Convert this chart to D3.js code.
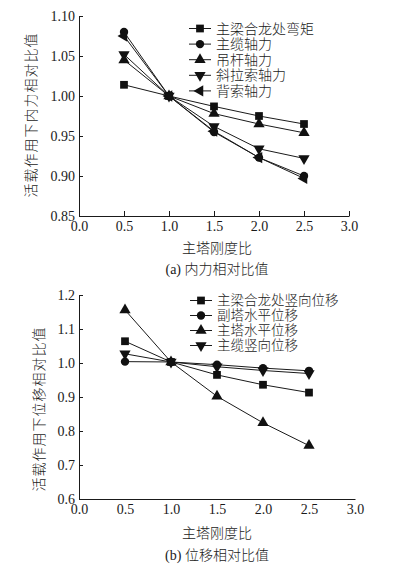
<!DOCTYPE html>
<html>
<head>
<meta charset="utf-8">
<script src="https://cdn.jsdelivr.net/npm/d3@7"></script>
<style>
body { margin: 0; background: #fff; }
text { fill: #1a1a1a; }
.num { font-family: "Liberation Serif", "DejaVu Serif", serif; font-size: 14px; }
.zh { font-family: "Liberation Serif", "Noto Sans CJK SC", sans-serif; font-size: 14px; font-weight: 300; }
.axis path, .axis line { stroke: #1a1a1a; stroke-width: 1; }
</style>
</head>
<body>
<div id="chart"></div>
<script>
var w = 394;
var h = 573;

// shared x values (主塔刚度比)
var ratios = [0.5, 1.0, 1.5, 2.0, 2.5];

// (a) 内力相对比值
var forceNames = ["主梁合龙处弯矩", "主缆轴力", "吊杆轴力", "斜拉索轴力", "背索轴力"];
var girderMoment = [1.014, 1.0, 0.987, 0.975, 0.965];
var cableForce = [1.080, 1.0, 0.955, 0.923, 0.900];
var hangerForce = [1.045, 1.0, 0.978, 0.965, 0.954];
var stayForce = [1.052, 1.0, 0.962, 0.934, 0.922];
var backstayForce = [1.075, 1.0, 0.956, 0.923, 0.897];
var forceTicks = [0.85, 0.90, 0.95, 1.00, 1.05, 1.10];

// (b) 位移相对比值
var dispNames = ["主梁合龙处竖向位移", "副塔水平位移", "主塔水平位移", "主缆竖向位移"];
var girderDisp = [1.064, 1.003, 0.965, 0.936, 0.913];
var sideTowerDisp = [1.004, 1.003, 0.995, 0.985, 0.977];
var towerDisp = [1.156, 1.003, 0.902, 0.824, 0.757];
var cableDisp = [1.027, 1.003, 0.989, 0.978, 0.969];
var dispTicks = [0.6, 0.7, 0.8, 0.9, 1.0, 1.1, 1.2];

var xTicks = [0, 0.5, 1.0, 1.5, 2.0, 2.5, 3.0];

var svg = d3.select("#chart").append("svg")
	.attr("width", w)
	.attr("height", h);

// marker shapes
var shapes = {
	square: { type: d3.symbolSquare, size: 60, rot: 0 },
	circle: { type: d3.symbolCircle, size: 55, rot: 0 },
	up: { type: d3.symbolTriangle, size: 55, rot: 0 },
	down: { type: d3.symbolTriangle, size: 55, rot: 180 },
	left: { type: d3.symbolTriangle, size: 55, rot: -90 }
};

function drawPanel(opt) {
	var g = svg.append("g");

	var xScale = d3.scaleLinear().domain([0, 3]).range([opt.x0, opt.x1]);
	var yScale = d3.scaleLinear().domain(opt.yDomain).range([opt.yBottom, opt.yTop]);

	// axes
	g.append("g")
		.attr("class", "axis num")
		.attr("transform", "translate(" + opt.x0 + ",0)")
		.call(d3.axisLeft(yScale)
			.tickValues(opt.yTicks)
			.tickFormat(d3.format(opt.yFmt))
			.tickSizeInner(-4)
			.tickSizeOuter(0)
			.tickPadding(4))
		.call(function (a) { a.selectAll("text").attr("fill", "#1a1a1a").style("font-size", "14px"); });

	g.append("g")
		.attr("class", "axis num")
		.attr("transform", "translate(0," + opt.yBottom + ")")
		.call(d3.axisBottom(xScale)
			.tickValues(xTicks)
			.tickFormat(d3.format(".1f"))
			.tickSizeInner(opt.xTick)
			.tickSizeOuter(0)
			.tickPadding(5))
		.call(function (a) { a.selectAll("text").attr("fill", "#1a1a1a").style("font-size", "14px"); });

	var line = d3.line()
		.x(function (d, i) { return xScale(ratios[i]); })
		.y(function (d) { return yScale(d); });

	opt.series.forEach(function (s) {
		g.append("path")
			.datum(s.values)
			.attr("d", line)
			.attr("fill", "none")
			.attr("stroke", "#1a1a1a")
			.attr("stroke-width", 1);
	});

	opt.series.forEach(function (s) {
		var sh = shapes[s.shape];
		g.selectAll(null)
			.data(s.values)
			.enter()
			.append("path")
			.attr("d", d3.symbol().type(sh.type).size(sh.size))
			.attr("transform", function (d, i) {
				return "translate(" + xScale(ratios[i]) + "," + yScale(d) + ") rotate(" + sh.rot + ")";
			})
			.attr("fill", "#111");
	});

	// legend
	var lg = g.append("g");
	opt.series.forEach(function (s, i) {
		var y = opt.legY + i * opt.legStep;
		var sh = shapes[s.shape];
		lg.append("line")
			.attr("x1", opt.legX).attr("x2", opt.legX + 22)
			.attr("y1", y).attr("y2", y)
			.attr("stroke", "#1a1a1a");
		lg.append("path")
			.attr("d", d3.symbol().type(sh.type).size(sh.size))
			.attr("transform", "translate(" + (opt.legX + 11) + "," + y + ") rotate(" + sh.rot + ")")
			.attr("fill", "#111");
		lg.append("text")
			.attr("class", "zh")
			.attr("x", opt.legX + 27)
			.attr("y", y)
			.attr("dy", "0.36em")
			.style("font-size", opt.legFont + "px")
			.text(s.name);
	});

	// axis titles
	g.append("text")
		.attr("class", "zh")
		.attr("transform", "translate(" + opt.yLabelX + "," + opt.yLabelY + ") rotate(-90)")
		.attr("text-anchor", "middle")
		.attr("dy", "0.36em")
		.style("letter-spacing", "1px")
		.text(opt.yLabel);

	g.append("text")
		.attr("class", "zh")
		.attr("x", 217)
		.attr("y", opt.xLabelY)
		.attr("text-anchor", "middle")
		.attr("dy", "0.36em")
		.text("主塔刚度比");

	var cap = g.append("text")
		.attr("x", 217)
		.attr("y", opt.capY)
		.attr("text-anchor", "middle")
		.attr("dy", "0.36em");
	cap.append("tspan").attr("class", "num").text(opt.capTag + " ");
	cap.append("tspan").attr("class", "zh").text(opt.caption);
}

drawPanel({
	x0: 79, x1: 349, yTop: 16, yBottom: 216,
	yDomain: [0.85, 1.10], yTicks: forceTicks, yFmt: ".2f", xTick: -5,
	series: [
		{ name: forceNames[0], values: girderMoment, shape: "square" },
		{ name: forceNames[1], values: cableForce, shape: "circle" },
		{ name: forceNames[2], values: hangerForce, shape: "up" },
		{ name: forceNames[3], values: stayForce, shape: "down" },
		{ name: forceNames[4], values: backstayForce, shape: "left" }
	],
	legX: 189, legY: 28.5, legStep: 15.6, legFont: 14,
	yLabel: "活载作用下内力相对比值", yLabelX: 31, yLabelY: 115,
	xLabelY: 248, capY: 268, capTag: "(a)", caption: "内力相对比值"
});

drawPanel({
	x0: 79, x1: 355, yTop: 295, yBottom: 499,
	yDomain: [0.6, 1.2], yTicks: dispTicks, yFmt: ".1f", xTick: 0,
	series: [
		{ name: dispNames[0], values: girderDisp, shape: "square" },
		{ name: dispNames[1], values: sideTowerDisp, shape: "circle" },
		{ name: dispNames[2], values: towerDisp, shape: "up" },
		{ name: dispNames[3], values: cableDisp, shape: "down" }
	],
	legX: 190, legY: 300.5, legStep: 15, legFont: 13.5,
	yLabel: "活载作用下位移相对比值", yLabelX: 39, yLabelY: 409,
	xLabelY: 533, capY: 554, capTag: "(b)", caption: "位移相对比值"
});
</script>
</body>
</html>
